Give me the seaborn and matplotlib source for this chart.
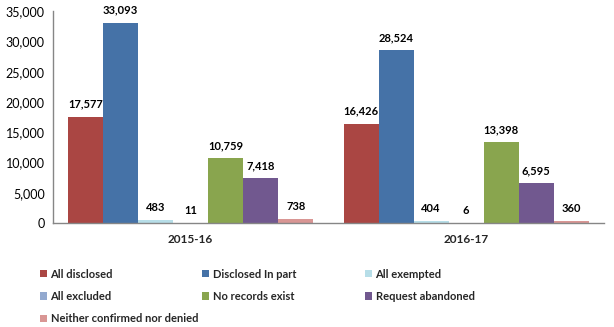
import matplotlib
matplotlib.use("Agg")
import matplotlib.pyplot as plt
import seaborn as sns
import pandas as pd
from matplotlib.patches import Patch
from matplotlib.ticker import FuncFormatter

years = ["2015-16", "2016-17"]
outcomes = ["All disclosed", "Disclosed In part", "All exempted", "All excluded",
            "No records exist", "Request abandoned", "Neither confirmed nor denied"]
values_2015 = [17577, 33093, 483, 11, 10759, 7418, 738]
values_2016 = [16426, 28524, 404, 6, 13398, 6595, 360]
colors = ["#AA4643", "#4572A7", "#B7DEE8", "#93A9CF", "#89A54E", "#71588F", "#D99694"]

rows = []
for yr, vals in zip(years, [values_2015, values_2016]):
    for name, v in zip(outcomes, vals):
        rows.append({"Year": yr, "Outcome": name, "Count": v})
df = pd.DataFrame(rows)

sns.set_theme(style="white")
plt.rcParams["font.family"] = ["Lato", "DejaVu Sans"]

fig = plt.figure(figsize=(6.14, 3.27), dpi=100)
ax = fig.add_axes([0.0863, 0.318, 0.897, 0.648])

sns.barplot(data=df, x="Year", y="Count", hue="Outcome", hue_order=outcomes,
            palette=colors, width=0.89, gap=0, saturation=1, linewidth=0,
            legend=False, ax=ax)

for cont in ax.containers:
    ax.bar_label(cont, labels=[f"{v:,.0f}" for v in cont.datavalues],
                 padding=5, fontsize=8, fontweight="bold", color="black")

ax.set_ylim(0, 35000)
ax.set_xlim(-0.5, 1.5)
ax.set_yticks(range(0, 35001, 5000))
ax.yaxis.set_major_formatter(FuncFormatter(lambda v, p: f"{v:,.0f}"))
ax.set_xlabel("")
ax.set_ylabel("")
ax.tick_params(axis="y", labelsize=9, length=0, pad=6, colors="black")
ax.tick_params(axis="x", length=0, pad=8)
for lbl in ax.get_xticklabels():
    lbl.set_fontweight("bold")
    lbl.set_fontsize(8.5)
for side in ["top", "right"]:
    ax.spines[side].set_visible(False)
for side in ["left", "bottom"]:
    ax.spines[side].set_color("#868686")
    ax.spines[side].set_linewidth(1)

# Legend laid out in three columns, filled row by row
handles = [Patch(facecolor=c, edgecolor="none") for c in colors]
columns = [[0, 3, 6], [1, 4], [2, 5]]
col_x = [40 / 614, 202 / 614, 365 / 614]
for idx, x0 in zip(columns, col_x):
    fig.legend([handles[i] for i in idx], [outcomes[i] for i in idx],
               ncol=1, loc="upper left", bbox_to_anchor=(x0, 0.178),
               frameon=False, prop={"weight": "bold", "size": 8},
               handlelength=0.6, handleheight=0.6, handletextpad=0.35,
               labelspacing=1.0, borderaxespad=0, borderpad=0)

fig.savefig("out.png", dpi=100)
